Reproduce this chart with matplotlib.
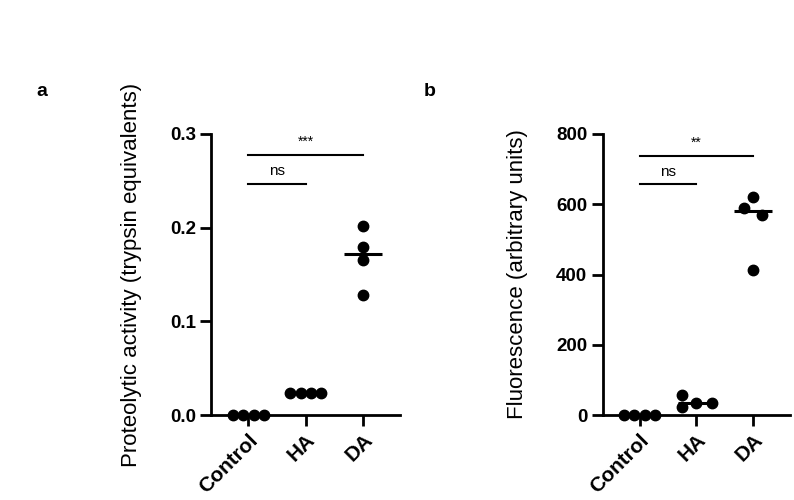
"""Two dot plots with medians and significance bars (panels a and b)"""
import numpy as np
import matplotlib
matplotlib.use("Agg")
import matplotlib.pyplot as plt

plt.rcParams["font.family"] = ["Liberation Sans", "DejaVu Sans"]

groups = ["Control", "HA", "DA"]

# panel a: proteolytic activity (trypsin equivalents)
prot_control = [0.0, 0.0, 0.0, 0.0]
prot_ha = [0.024, 0.024, 0.024, 0.024]
prot_da = [0.202, 0.179, 0.165, 0.128]

# panel b: fluorescence (arbitrary units)
fluo_control = [0.0, 0.0, 0.0, 0.0]
fluo_ha = [56, 22, 34, 34]
fluo_da = [621, 590, 570, 414]

# significance annotations: (group i, group j, height, label)
sig_a = [(0, 2, 0.278, "***"), (0, 1, 0.247, "ns")]
sig_b = [(0, 2, 738, "**"), (0, 1, 657, "ns")]

# horizontal scatter offsets of the dots (swarm layout)
spread4 = [-0.27, -0.09, 0.09, 0.27]
offs_a = [spread4, spread4, [0, 0, 0, 0]]
offs_b = [spread4, [-0.25, -0.25, 0.0, 0.28], [0.0, -0.16, 0.16, 0.0]]


def dot_panel(ax, data, offs, sig, ymax, yticks, ylabel, txt_pad):
    for i, (vals, off) in enumerate(zip(data, offs)):
        med = np.median(vals)
        ax.plot([i - 0.33, i + 0.33], [med, med], color="black", lw=2.2,
                solid_capstyle="butt", zorder=2)
        ax.plot(i + np.array(off), vals, "o", color="black", ms=7.5,
                zorder=3, clip_on=False)
    for a, b, h, lab in sig:
        ax.plot([a, b], [h, h], color="black", lw=1.5)
        ax.text((a + b) / 2, h + txt_pad, lab, ha="center", va="bottom",
                fontsize=11 if lab == "ns" else 10)
    ax.set_xlim(-0.65, 2.65)
    ax.set_ylim(0, ymax)
    ax.set_yticks(yticks)
    ax.set_xticks(range(len(groups)))
    ax.set_xticklabels(groups, rotation=45, ha="right", rotation_mode="anchor",
                       fontweight="bold", fontsize=15)
    for t in ax.get_yticklabels():
        t.set_fontweight("bold")
        t.set_fontsize(13.5)
    ax.set_ylabel(ylabel, fontsize=16, labelpad=20)
    for s in ["top", "right"]:
        ax.spines[s].set_visible(False)
    for s in ["left", "bottom"]:
        ax.spines[s].set_linewidth(2)
    ax.tick_params(width=2, length=8, pad=3)


fig = plt.figure(figsize=(7.94, 5.0), dpi=100)
ax1 = fig.add_axes([0.266, 0.17, 0.238, 0.562])
ax2 = fig.add_axes([0.759, 0.17, 0.236, 0.562])

dot_panel(ax1, [prot_control, prot_ha, prot_da], offs_a, sig_a, 0.3,
          [0.0, 0.1, 0.2, 0.3], "Proteolytic activity (trypsin equivalents)", 0.006)
ax1.set_yticklabels(["0.0", "0.1", "0.2", "0.3"])
for t in ax1.get_yticklabels():
    t.set_fontweight("bold")
    t.set_fontsize(13.5)
dot_panel(ax2, [fluo_control, fluo_ha, fluo_da], offs_b, sig_b, 800,
          [0, 200, 400, 600, 800], "Fluorescence (arbitrary units)", 16)

fig.text(36 / 794, 1 - 92 / 500, "a", fontweight="bold", fontsize=14,
         ha="left", va="center")
fig.text(424 / 794, 1 - 92 / 500, "b", fontweight="bold", fontsize=14,
         ha="left", va="center")

fig.savefig("out.png", dpi=100)
